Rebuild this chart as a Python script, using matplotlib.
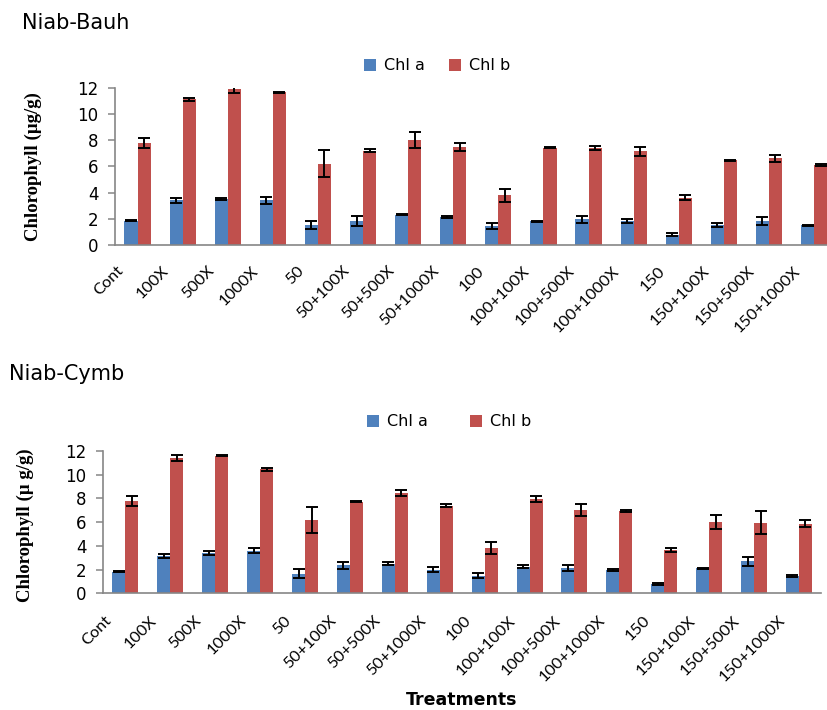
import matplotlib
matplotlib.use("Agg")
import matplotlib.pyplot as plt
from matplotlib.patches import Patch
import numpy as np

# Treatment labels shared by both cultivars
treatments = ["Cont", "100X", "500X", "1000X", "50", "50+100X", "50+500X", "50+1000X",
              "100", "100+100X", "100+500X", "100+1000X", "150", "150+100X", "150+500X",
              "150+1000X"]

# Niab-Bauh: chlorophyll a / b means and standard errors (µg/g)
bauh_chl_a = [1.85, 3.4, 3.5, 3.4, 1.55, 1.85, 2.3, 2.15, 1.45, 1.8, 1.95, 1.85, 0.8, 1.55, 1.85, 1.5]
bauh_chl_a_err = [0.05, 0.2, 0.05, 0.25, 0.3, 0.38, 0.03, 0.1, 0.25, 0.03, 0.25, 0.15, 0.1, 0.15, 0.3, 0.05]
bauh_chl_b = [7.75, 11.1, 11.9, 11.65, 6.2, 7.2, 8.0, 7.45, 3.8, 7.42, 7.4, 7.15, 3.6, 6.45, 6.6, 6.1]
bauh_chl_b_err = [0.38, 0.1, 0.33, 0.05, 1.05, 0.1, 0.62, 0.3, 0.5, 0.02, 0.15, 0.35, 0.2, 0.05, 0.3, 0.08]

# Niab-Cymb: chlorophyll a / b means and standard errors (µg/g)
cymb_chl_a = [1.82, 3.15, 3.4, 3.6, 1.65, 2.35, 2.5, 2.0, 1.5, 2.25, 2.15, 2.0, 0.8, 2.1, 2.7, 1.45]
cymb_chl_a_err = [0.05, 0.15, 0.15, 0.2, 0.4, 0.3, 0.12, 0.2, 0.2, 0.12, 0.25, 0.08, 0.1, 0.02, 0.4, 0.08]
cymb_chl_b = [7.8, 11.4, 11.62, 10.45, 6.2, 7.72, 8.45, 7.4, 3.85, 7.95, 7.05, 6.92, 3.65, 6.0, 5.95, 5.85]
cymb_chl_b_err = [0.4, 0.25, 0.05, 0.15, 1.1, 0.05, 0.25, 0.12, 0.5, 0.25, 0.5, 0.08, 0.2, 0.6, 0.95, 0.3]

y_ticks = [0, 2, 4, 6, 8, 10, 12]

BLUE = "#4F81BD"
RED = "#C0504D"
AXIS_GREY = "#868686"

W, H = 828, 710
fig = plt.figure(figsize=(W / 100, H / 100), dpi=100)


def px_axes(left, top, right, bottom):
    return fig.add_axes([left / W, 1 - bottom / H, (right - left) / W, (bottom - top) / H])


def draw_panel(ax, chl_a, chl_a_err, chl_b, chl_b_err, label_pad):
    x = np.arange(len(treatments))
    bw = 0.29
    err_kw = dict(ecolor="black", elinewidth=1.4, capsize=4.6, capthick=1.4)
    ax.bar(x - bw / 2, chl_a, bw, color=BLUE, yerr=chl_a_err, error_kw=err_kw, zorder=2)
    ax.bar(x + bw / 2, chl_b, bw, color=RED, yerr=chl_b_err, error_kw=err_kw, zorder=2)
    ax.set_xlim(-0.5, len(treatments) - 0.5)
    ax.set_ylim(0, 12)
    ax.set_yticks(y_ticks)
    ax.set_yticklabels([str(v) for v in y_ticks], fontsize=12, family="DejaVu Sans")
    # slanted labels end a little left of each group's centre (ticks are hidden)
    ax.set_xticks(x - 0.36)
    ax.set_xticklabels(treatments, rotation=45, ha="right", va="center",
                       rotation_mode="anchor", fontsize=11.8, family="Lato")
    ax.tick_params(axis="x", length=0, pad=label_pad)
    ax.tick_params(axis="y", length=5, width=1.1, color=AXIS_GREY, direction="out", pad=7)
    for side in ("top", "right"):
        ax.spines[side].set_visible(False)
    for side in ("left", "bottom"):
        ax.spines[side].set_color(AXIS_GREY)
        ax.spines[side].set_linewidth(1.2)
    ax.set_facecolor("none")


handles = [Patch(facecolor=BLUE, label="Chl a"), Patch(facecolor=RED, label="Chl b")]
legend_kw = dict(loc="center", ncol=2, frameon=False, fontsize=11.5, handlelength=0.75,
                 handleheight=0.75, handletextpad=0.5, borderaxespad=0, borderpad=0)

# Niab-Bauh panel
ax1 = px_axes(115, 87.7, 115 + 16 * 45.1, 245)
draw_panel(ax1, bauh_chl_a, bauh_chl_a_err, bauh_chl_b, bauh_chl_b_err, label_pad=17)
fig.text(22 / W, 1 - 23 / H, "Niab-Bauh", fontsize=15, family="DejaVu Sans",
         ha="left", va="center")
fig.text(33 / W, 1 - 167 / H, "Chlorophyll (µg/g)", rotation=90, fontsize=13.5,
         family="Liberation Serif", weight="bold", ha="center", va="center")
fig.legend(handles=handles, bbox_to_anchor=(437 / W, 1 - 66 / H), columnspacing=1.5,
           **legend_kw)

# Niab-Cymb panel
ax2 = px_axes(103, 451, 103 + 16 * 44.9, 593.3)
draw_panel(ax2, cymb_chl_a, cymb_chl_a_err, cymb_chl_b, cymb_chl_b_err, label_pad=18)
fig.text(9 / W, 1 - 374 / H, "Niab-Cymb", fontsize=15, family="DejaVu Sans",
         ha="left", va="center")
fig.text(25 / W, 1 - 525 / H, "Chlorophyll (µ g/g)", rotation=90, fontsize=13.5,
         family="Liberation Serif", weight="bold", ha="center", va="center")
fig.legend(handles=handles, bbox_to_anchor=(449 / W, 1 - 422 / H), columnspacing=2.6,
           **legend_kw)

fig.text(462 / W, 1 - 700 / H, "Treatments", fontsize=12.5, family="DejaVu Sans",
         weight="bold", ha="center", va="center")

fig.savefig("out.png", dpi=100)
